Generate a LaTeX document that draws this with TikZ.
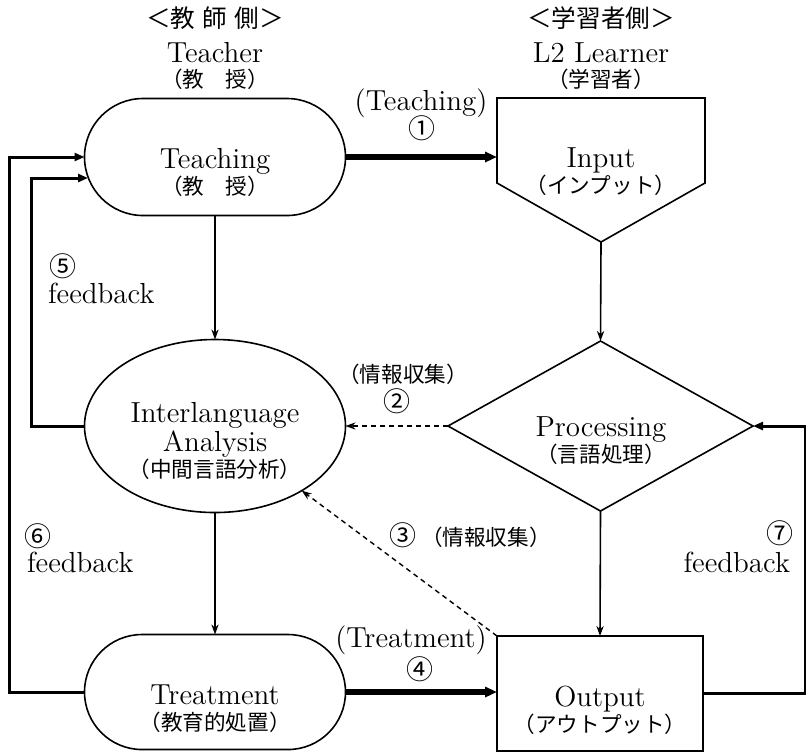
\documentclass[tikz,border=0pt]{standalone}
\usepackage{fontspec}
\newfontfamily\jpfont{Noto Sans CJK JP}
\usetikzlibrary{arrows.meta,shapes.geometric,calc}
\newcommand{\jp}[1]{{\jpfont\fontsize{10.8}{13}\selectfont #1}}
\newcommand{\hd}[1]{{\jpfont\fontsize{12.3}{13}\selectfont #1}}
\newcommand{\cnum}[1]{{\jpfont\fontsize{13.5}{13}\selectfont #1}}
\begin{document}
\begin{tikzpicture}[x=0.5pt,y=-0.5pt,
  every node/.style={font=\fontsize{14.5}{13}\selectfont, inner sep=0pt, outer sep=0pt},
  shapebox/.style={draw, line width=0.8pt},
  thinarrow/.style={line width=0.8pt, -{Stealth[length=5pt,width=3.6pt,inset=1.6pt]}},
  dasharrow/.style={line width=0.7pt, dash pattern=on 2.5pt off 2pt, -{Stealth[length=5pt,width=3.6pt,inset=1.6pt]}},
  thickarrow/.style={line width=3pt, -{Triangle[length=6pt,width=5pt]}},
  fbarrow/.style={line width=1.5pt, -{Triangle[length=5pt,width=4pt]}}
]
\useasboundingbox (0,0) rectangle (806,752);

% headers
\node (hT) at (215,18) {\hd{＜教\hspace{0.3em}師\hspace{0.3em}側＞}};
\node[anchor=base] (teacher) at (215,62) {Teacher};
\node (teacherJ) at (215,79) {\jp{（教　授）}};
\node (hL) at (601,18) {\hd{＜学習者側＞}};
\node[anchor=base] (learner) at (601,62) {L2 Learner};
\node (learnerJ) at (601,79) {\jp{（学習者）}};

% shapes
\node[shapebox, rectangle, rounded corners=29.25pt, minimum width=130.5pt, minimum height=58.5pt] (teach) at (215,157) {};
\node[minimum width=104pt, minimum height=72pt] (input) at (601,170) {};
\draw[shapebox, line join=miter] (input.north west) -- (input.north east) -- ($(input.north east)+(0,85)$) -- (input.south) -- ($(input.north west)+(0,85)$) -- cycle;
\node[shapebox, diamond, minimum width=152.5pt, minimum height=85pt] (proc) at (600.5,426) {};
\node[shapebox, ellipse, minimum width=130.5pt, minimum height=86.5pt] (ana) at (215,426) {};
\node[shapebox, rectangle, minimum width=103pt, minimum height=57.5pt] (out) at (600,693.5) {};
\node[shapebox, rectangle, rounded corners=28.75pt, minimum width=130.5pt, minimum height=57.5pt] (treat) at (215,692) {};

% shape texts
\node[align=center] (teachT) at (215,172) {Teaching\\\jp{（教　授）}};
\node[align=center] (inputT) at (601,172) {Input\\\jp{（インプット）}};
\node[align=center] (anaT) at (215,441) {Interlanguage\\Analysis\\\jp{（中間言語分析）}};
\node[align=center] (procT) at (601,441) {Processing\\\jp{（言語処理）}};
\node[align=center] (outT) at (600,710) {Output\\\jp{（アウトプット）}};
\node[align=center] (treatT) at (215,709) {Treatment\\\jp{（教育的処置）}};

% connectors
\draw[thickarrow] (teach.east) -- (teach.east -| input.west);
\draw[thinarrow] (input.south) -- (proc.north);
\draw[thinarrow] (teach.south) -- (ana.north);
\draw[dasharrow] (proc.west) -- (ana.east);
\draw[dasharrow] (out.north west) -- (ana);
\draw[thinarrow] (proc.south) -- (out.north);
\draw[thinarrow] (ana.south) -- (treat.north);
\draw[thickarrow] (treat.east) -- (out.west |- treat.east);

% feedback loops
\coordinate (f6) at (9.5,0);
\coordinate (f5) at (31,0);
\coordinate (f5in) at (88,178);
\coordinate (f7) at (805,0);
\draw[fbarrow, line join=miter] (treat.west) -- (treat.west -| f6) -- (teach.west -| f6) -- (teach.west);
\draw[fbarrow, line join=miter] (ana.west) -- (ana.west -| f5) -- (f5in -| f5) -- (f5in);
\draw[fbarrow, line join=miter] (out.east) -- (out.east -| f7) -- (proc.east -| f7) -- (proc.east);

% labels
\node (l1) at (421,103) {(Teaching)};
\node (n1) at (422,128) {\cnum{①}};
\node (l2) at (403,374) {\jp{（情報収集）}};
\node (n2) at (397,401) {\cnum{②}};
\node (l3) at (470,535) {\cnum{③}\,\jp{（情報収集）}};
\node (l4) at (411,640) {(Treatment)};
\node (n4) at (420,669) {\cnum{④}};
\node[anchor=west] (n5) at (49,266) {\cnum{⑤}};
\node[anchor=base west] (fb5) at (48,303) {feedback};
\node[anchor=west] (n6) at (25,536) {\cnum{⑥}};
\node[anchor=base west] (fb6) at (27,572) {feedback};
\node[anchor=east] (n7) at (793,533) {\cnum{⑦}};
\node[anchor=base east] (fb7) at (790,572) {feedback};
\end{tikzpicture}
\end{document}
